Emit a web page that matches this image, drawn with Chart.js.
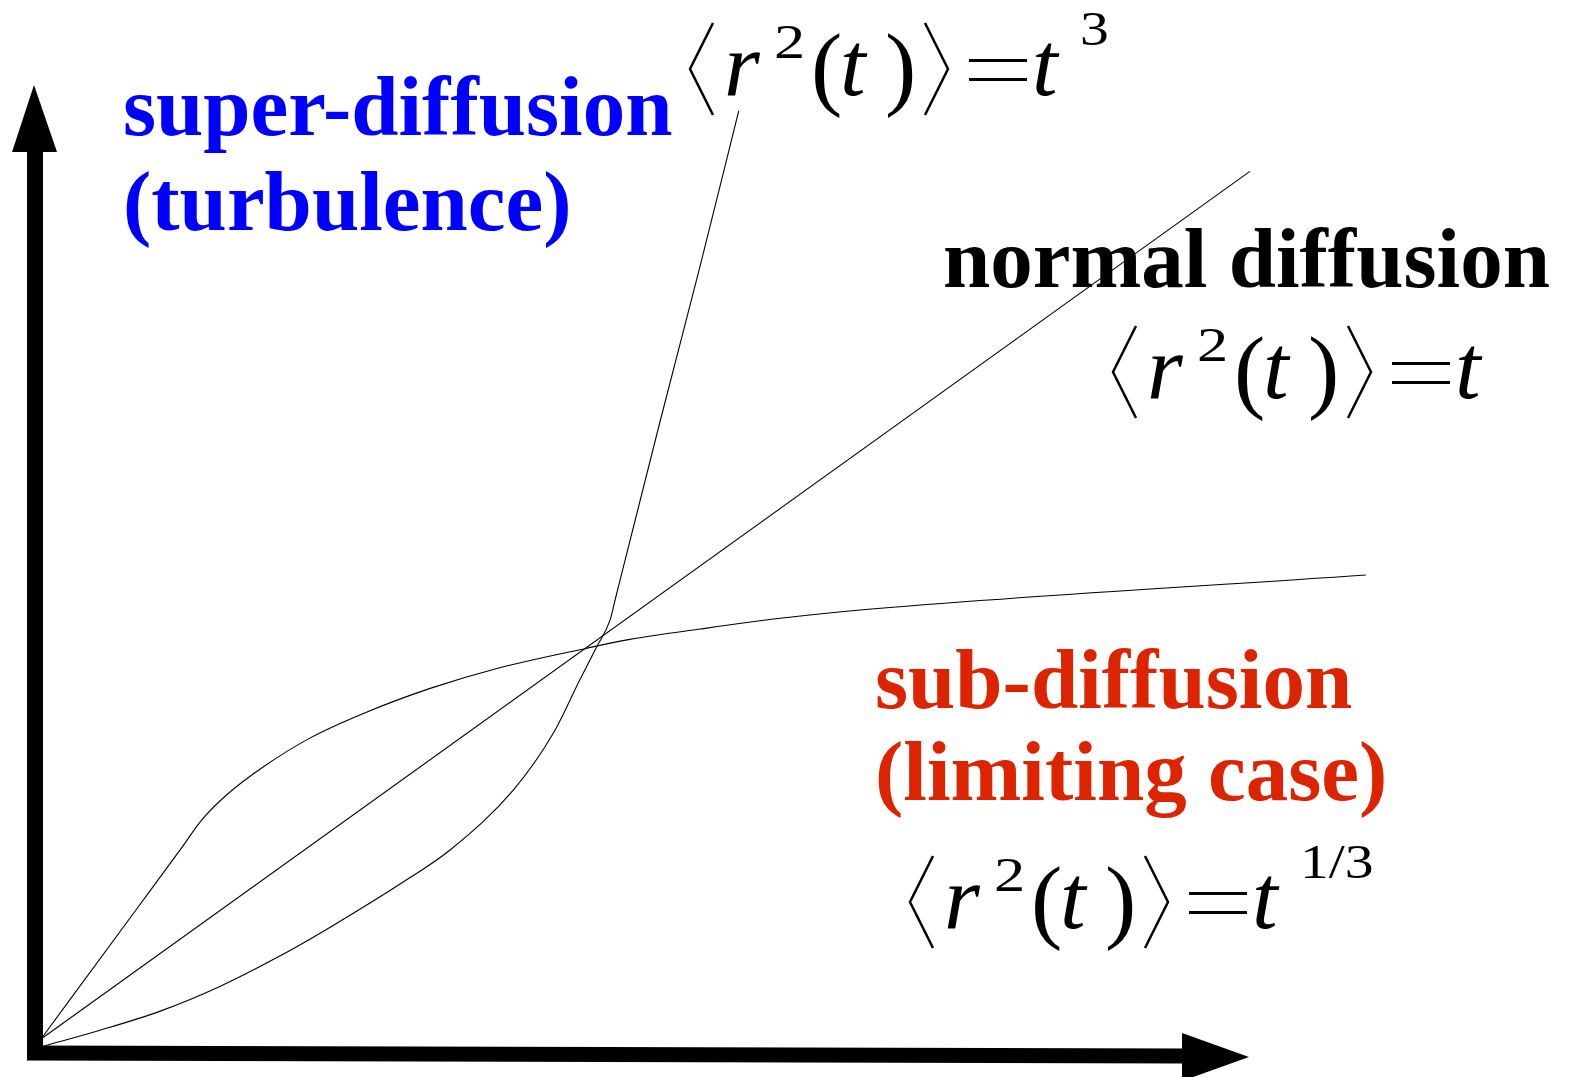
<!DOCTYPE html>
<html>
<head>
<meta charset="utf-8">
<script src="https://cdn.jsdelivr.net/npm/chart.js@4/dist/chart.umd.min.js"></script>
<style>
  html, body { margin: 0; padding: 0; background: #fff; }
  #wrap { width: 1577px; height: 1077px; position: relative; }
</style>
</head>
<body>
<div id="wrap"><canvas id="diffChart"></canvas></div>
<script>
// curves (t scaled so the crossing sits near t = 1)
const normalT  = [0, 2.19];
const normalR2 = [0, 2.18];

const superT  = [0.004, 0.107, 0.216, 0.324, 0.424, 0.524, 0.668, 0.741, 0.856, 0.928, 0.976, 1.007, 1.031, 1.040, 1.121, 1.194, 1.264];
const superR2 = [-0.018, 0.022, 0.070, 0.132, 0.202, 0.281, 0.405, 0.475, 0.626, 0.768, 0.902, 0.986, 1.053, 1.103, 1.549, 1.942, 2.332];

const subT  = [0, 0.172, 0.252, 0.291, 0.336, 0.403, 0.487, 0.584, 0.705, 0.826, 0.989, 1.067, 1.194, 1.339, 1.484, 2.400];
const subR2 = [0, 0.324, 0.475, 0.550, 0.613, 0.684, 0.756, 0.818, 0.881, 0.931, 0.982, 1.004, 1.030, 1.057, 1.078, 1.166];

const superLabel  = ['super-diffusion', '(turbulence)'];
const normalLabel = ['normal diffusion'];
const subLabel    = ['sub-diffusion', '(limiting case)'];

const BLUE = '#0000ff';
const RED = '#dc2400';

function toPoints(xs, ys) {
    return xs.map((x, i) => ({ x: x, y: ys[i] }));
}

function wideText(ctx, txt, x, y, sx) {
    ctx.save();
    ctx.translate(x, y);
    ctx.scale(sx, 1);
    ctx.fillText(txt, 0, 0);
    ctx.restore();
}

// <r^2(t)> = t^exp, drawn piece by piece
function drawFormula(ctx, x, b, exp) {
    ctx.save();
    ctx.fillStyle = '#000';
    ctx.strokeStyle = '#000';
    ctx.lineWidth = 2.5;
    ctx.textAlign = 'left';
    ctx.textBaseline = 'alphabetic';

    ctx.beginPath();
    ctx.moveTo(x + 23, b - 72); ctx.lineTo(x, b - 26); ctx.lineTo(x + 23, b + 20);
    ctx.moveTo(x + 235, b - 72); ctx.lineTo(x + 258, b - 26); ctx.lineTo(x + 235, b + 20);
    ctx.stroke();

    ctx.fillRect(x + 279, b - 36, 58, 3);
    ctx.fillRect(x + 279, b - 17, 58, 3);

    ctx.font = 'italic 92px "Liberation Serif"';
    ctx.fillText('r', x + 34, b);
    ctx.fillText('t', x + 150, b);
    ctx.fillText('t', x + 342, b);

    ctx.font = '94px "Liberation Serif"';
    ctx.fillText('(', x + 121, b + 3);
    ctx.fillText(')', x + 195, b + 3);

    ctx.font = '48px "Liberation Serif"';
    wideText(ctx, '2', x + 84, b - 37, 1.3);
    if (exp) wideText(ctx, exp, x + 390, b - 50, 1.2);
    ctx.restore();
}

const decor = {
    id: 'decor',
    beforeDatasetsDraw(chart) {
        const ctx = chart.ctx;
        const ox = chart.scales.x.getPixelForValue(0);
        const oy = chart.scales.y.getPixelForValue(0);
        ctx.save();
        ctx.fillStyle = '#000';
        ctx.strokeStyle = '#000';
        ctx.lineCap = 'butt';
        // y axis
        ctx.lineWidth = 16;
        ctx.beginPath();
        ctx.moveTo(ox - 6, oy + 20);
        ctx.lineTo(ox - 6, 150);
        ctx.stroke();
        ctx.beginPath();
        ctx.moveTo(ox - 29, 152); ctx.lineTo(ox + 16, 152); ctx.lineTo(ox - 7, 85);
        ctx.closePath();
        ctx.fill();
        // x axis
        ctx.lineWidth = 15;
        ctx.beginPath();
        ctx.moveTo(ox - 14, oy + 14);
        ctx.lineTo(1184, oy + 17);
        ctx.stroke();
        ctx.beginPath();
        ctx.moveTo(1182, 1033); ctx.lineTo(1182, 1081); ctx.lineTo(1249, 1057);
        ctx.closePath();
        ctx.fill();
        ctx.restore();
    },
    afterDraw(chart) {
        const ctx = chart.ctx;
        ctx.save();
        ctx.textAlign = 'left';
        ctx.textBaseline = 'alphabetic';
        ctx.font = 'bold 85px "Liberation Serif"';
        ctx.fillStyle = BLUE;
        ctx.fillText(superLabel[0], 123, 135);
        ctx.fillText(superLabel[1], 123, 230);
        ctx.fillStyle = '#000';
        ctx.fillText(normalLabel[0], 943, 287);
        ctx.fillStyle = RED;
        ctx.fillText(subLabel[0], 875, 708);
        ctx.fillText(subLabel[1], 875, 800);
        ctx.restore();

        drawFormula(ctx, 690, 95, '3');
        drawFormula(ctx, 1113, 398, '');
        drawFormula(ctx, 910, 928, '1/3');
    }
};

const lineStyle = {
    borderColor: '#000',
    borderWidth: 1.1,
    pointRadius: 0,
    fill: false,
    clip: false
};

new Chart(document.getElementById('diffChart'), {
    type: 'line',
    data: {
        datasets: [
            Object.assign({ label: 'normal', data: toPoints(normalT, normalR2), tension: 0 }, lineStyle),
            Object.assign({ label: 'super', data: toPoints(superT, superR2), cubicInterpolationMode: 'monotone' }, lineStyle),
            Object.assign({ label: 'sub', data: toPoints(subT, subR2), cubicInterpolationMode: 'monotone' }, lineStyle)
        ]
    },
    options: {
        responsive: true,
        maintainAspectRatio: false,
        animation: false,
        layout: { padding: 0 },
        plugins: {
            legend: { display: false },
            tooltip: { enabled: false }
        },
        scales: {
            x: { type: 'linear', display: false, min: -41 / 552, max: 1536 / 552 },
            y: { type: 'linear', display: false, min: -38 / 398, max: 1039 / 398 }
        }
    },
    plugins: [decor]
});
</script>
</body>
</html>
